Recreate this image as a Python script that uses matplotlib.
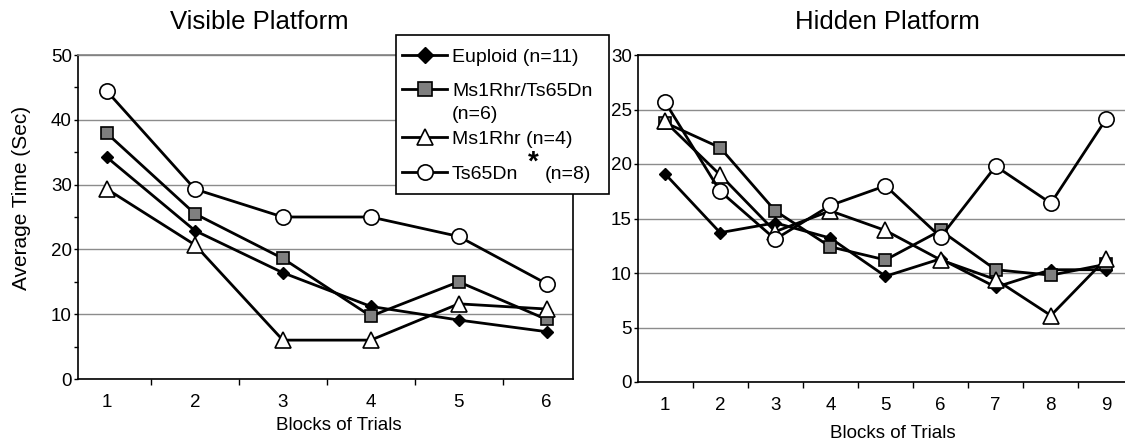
import matplotlib
matplotlib.use("Agg")
import matplotlib.pyplot as plt
from matplotlib.ticker import MultipleLocator
from matplotlib.lines import Line2D
from matplotlib.patches import Rectangle

plt.rcParams['font.family'] = ['Liberation Sans', 'DejaVu Sans']

# ---- data ----
visible_blocks = [1, 2, 3, 4, 5, 6]
hidden_blocks = [1, 2, 3, 4, 5, 6, 7, 8, 9]

series_names = ["Euploid (n=11)", "Ms1Rhr/Ts65Dn", "Ms1Rhr (n=4)", "Ts65Dn"]

visible_euploid = [34.2, 22.9, 16.4, 11.2, 9.1, 7.3]
visible_ms1ts = [37.9, 25.5, 18.6, 9.7, 15.0, 9.2]
visible_ms1 = [29.3, 20.7, 6.0, 6.0, 11.6, 10.8]
visible_ts65 = [44.4, 29.3, 25.0, 25.0, 22.0, 14.7]

hidden_euploid = [19.1, 13.7, 14.6, 13.2, 9.7, 11.3, 8.7, 10.3, 10.3]
hidden_ms1ts = [23.8, 21.5, 15.7, 12.4, 11.2, 13.9, 10.3, 9.8, 10.8]
hidden_ms1 = [23.9, 19.0, 13.8, 15.7, 13.9, 11.2, 9.4, 6.1, 11.3]
hidden_ts65 = [25.7, 17.5, 13.1, 16.2, 18.0, 13.3, 19.8, 16.4, 24.1]

styles = [
    dict(marker='D', markersize=6, markerfacecolor='black', markeredgecolor='black', markeredgewidth=1),
    dict(marker='s', markersize=8.5, markerfacecolor='#7f7f7f', markeredgecolor='black', markeredgewidth=1.2),
    dict(marker='^', markersize=11, markerfacecolor='white', markeredgecolor='black', markeredgewidth=1.2),
    dict(marker='o', markersize=11, markerfacecolor='white', markeredgecolor='black', markeredgewidth=1.2),
]

W, H = 1125, 441
fig = plt.figure(figsize=(W / 100, H / 100), dpi=100)

def fx(x):
    return x / W

def fy(y):
    return 1 - y / H

def px_axes(x0, y0, x1, y1):
    return fig.add_axes([x0 / W, 1 - y1 / H, (x1 - x0) / W, (y1 - y0) / H])

axL = px_axes(78, 55, 573, 379)
axR = px_axes(638, 55, 1125, 382)

def style_axes(ax, xs, ymax, ystep_major, minor, xlim):
    ax.set_xlim(*xlim)
    ax.set_ylim(0, ymax)
    ax.set_xticks(xs)
    ax.set_xticklabels([str(x) for x in xs], fontsize=13.5)
    ax.set_xticks([x + 0.5 for x in xs[:-1]], minor=True)
    ax.tick_params(axis='x', which='major', length=0, pad=11)
    ax.tick_params(axis='x', which='minor', length=4, width=1, direction='out')
    ax.yaxis.set_major_locator(MultipleLocator(ystep_major))
    if minor:
        ax.yaxis.set_minor_locator(MultipleLocator(minor))
    ax.tick_params(axis='y', which='both', length=3, width=1, direction='out', labelsize=13.5, pad=1.5)
    ax.grid(axis='y', which='major', color='#8c8c8c', linewidth=1)
    ax.set_axisbelow(True)
    for s in ax.spines.values():
        s.set_color('black')
        s.set_linewidth(1.2)

style_axes(axL, visible_blocks, 50, 10, 5, (0.67, 6.3))
style_axes(axR, hidden_blocks, 30, 5, None, (0.51, 9.345))
axL.spines['top'].set_color('#808080')
axR.spines['right'].set_visible(False)

vis = [visible_euploid, visible_ms1ts, visible_ms1, visible_ts65]
hid = [hidden_euploid, hidden_ms1ts, hidden_ms1, hidden_ts65]
for st, vy, hy in zip(styles, vis, hid):
    axL.plot(visible_blocks, vy, color='black', linewidth=2, **st)
    axR.plot(hidden_blocks, hy, color='black', linewidth=2, **st)

# axis labels and titles
fig.text(fx(22), fy(198), "Average Time (Sec)", fontsize=15, rotation=90, ha='center', va='center')
fig.text(fx(339), fy(426), "Blocks of Trials", fontsize=13.5, ha='center', va='center')
fig.text(fx(893), fy(434), "Blocks of Trials", fontsize=13.5, ha='center', va='center')
fig.text(fx(259), fy(22), "Visible Platform", fontsize=18.5, ha='center', va='center')
fig.text(fx(887), fy(22), "Hidden Platform", fontsize=18.5, ha='center', va='center')

# legend box drawn by hand
fig.add_artist(Rectangle((fx(396), fy(194)), fx(609) - fx(396), fy(35) - fy(194),
                         transform=fig.transFigure, facecolor='white', edgecolor='black',
                         linewidth=1.2, zorder=5))
entry_y = [55, 89, 137, 172]
legend_marker_sizes = [8, 9.5, 11, 11]
for name, st, y, ms in zip(series_names, styles, entry_y, legend_marker_sizes):
    fig.add_artist(Line2D([fx(402), fx(447)], [fy(y), fy(y)], transform=fig.transFigure,
                          color='black', linewidth=2, zorder=6))
    st2 = dict(st)
    st2['markersize'] = ms
    fig.add_artist(Line2D([fx(424.5)], [fy(y)], transform=fig.transFigure,
                          linestyle='none', zorder=7, **st2))
    fig.text(fx(452), fy(y + 7), name, fontsize=14, ha='left', va='baseline', zorder=8)
fig.text(fx(452), fy(112 + 7), "(n=6)", fontsize=14, ha='left', va='baseline', zorder=8)
fig.text(fx(533), fy(163), "*", fontsize=20, fontweight='bold', ha='center', va='center', zorder=8)
fig.text(fx(545), fy(172 + 7), "(n=8)", fontsize=14, ha='left', va='baseline', zorder=8)

fig.savefig("out.png", dpi=100)
